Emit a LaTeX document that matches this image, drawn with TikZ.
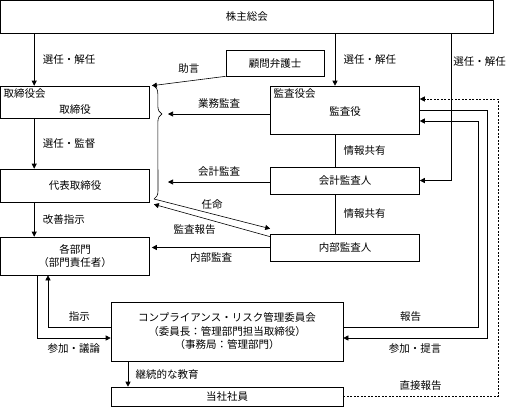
\documentclass[tikz,border=0pt]{standalone}
\usepackage{fontspec}
\newfontfamily\jpfont{Noto Sans CJK JP}
\usetikzlibrary{arrows.meta,decorations.pathreplacing}

\begin{document}
\begin{tikzpicture}[x=1pt, y=-1pt, line width=0.6pt,
    font=\jpfont\fontsize{10.5}{13.5}\selectfont,
    box/.style={draw, minimum width=149pt, inner sep=0pt, align=center},
    arr/.style={-{Triangle[length=5pt,width=5pt]}},
    lbl/.style={inner sep=1pt}]
    \def\boxW{149}

    \useasboundingbox (0,0) rectangle (509,407);

    \node[box, minimum width=492.5pt, minimum height=33pt] (soukai) at (246.75,17) {株主総会};
    \node[box, minimum width=98pt, minimum height=26pt] (komon) at (275,63) {顧問弁護士};
    \node[box, minimum height=32pt] (tori) at (75,102) {};
    \node[anchor=north west, inner sep=3pt] (torikai) at (tori.north west) {取締役会};
    \node[lbl] (toriyaku) at (75,110) {取締役};
    \node[box, minimum height=48pt] (kansa) at (345,110) {};
    \node[anchor=north west, inner sep=3pt] (kansakai) at (kansa.north west) {監査役会};
    \node[lbl] (kansayaku) at (345,112) {監査役};
    \node[box, minimum height=33pt] (daihyo) at (75,185.5) {代表取締役};
    \node[box, minimum height=27pt] (kaikei) at (345,180.5) {会計監査人};
    \node[box, minimum height=27pt] (naibu) at (345,247.5) {内部監査人};
    \node[box, minimum height=38pt] (bumon) at (75,256) {各部門\\（部門責任者）};
    \node[box, minimum width=232pt, minimum height=59pt] (iinkai) at (227,331.5)
        {コンプライアンス・リスク管理委員会\\（委員長：管理部門担当取締役）\\（事務局：管理部門）};
    \node[box, minimum width=232pt, minimum height=19pt] (shain) at (227,396.5) {当社社員};

    \coordinate (kx) at (335,0);
    \coordinate (sx) at (451,0);
    \coordinate (ix) at (48,0);
    \coordinate (gx) at (37,0);
    \coordinate (ex) at (128,0);
    \coordinate (rx) at (478,0);
    \coordinate (tx) at (487,0);
    \coordinate (dx) at (498,0);
    \coordinate (brtop) at ([xshift=4pt]tori.north east);
    \coordinate (brbot) at (154,199);
    \coordinate (brtip) at (168,114);
    \coordinate (kt) at (168,182);
    \coordinate (k1) at ([yshift=11pt]kansa.east);
    \coordinate (k2) at ([yshift=-11pt]kansa.east);
    \coordinate (i1) at ([yshift=4.5pt]iinkai.east);
    \coordinate (i2) at ([yshift=-6.5pt]iinkai.east);
    \coordinate (i3) at ([yshift=4.5pt]iinkai.west);
    \coordinate (i4) at ([yshift=-6.5pt]iinkai.west);

    \draw[arr] ([xshift=34pt]soukai.south west) -- ([xshift=34pt]tori.north west)
        node[midway, right=5pt] {選任・解任};
    \draw[arr] (soukai.south -| kx) -- (kansa.north -| kx) node[midway, right=5pt] {選任・解任};
    \draw[arr] (soukai.south -| sx) |- node[pos=0.095, right=1pt, inner sep=1pt] {選任・解任} (kaikei.east);

    \draw[arr] (komon.south west) -- ([xshift=2pt]tori.north east) node[midway, above=4pt] {助言};
    \draw[decorate, decoration={brace, amplitude=8pt, aspect=0.25}] (brtop) -- (brbot);
    \draw[arr] (kansa.west |- brtip) -- (brtip) node[midway, above=2pt] {業務監査};
    \draw[arr] (kaikei.west |- kt) -- (kt) node[midway, above=2pt] {会計監査};

    \draw[arr] ([xshift=34pt]tori.south west) -- ([xshift=34pt]daihyo.north west)
        node[midway, right=5pt] {選任・監督};
    \draw[arr] ([xshift=34pt]daihyo.south west) -- ([xshift=34pt]bumon.north west)
        node[midway, right=5pt] {改善指示};

    \draw[arr] (brbot) -- ([yshift=5pt]naibu.north west) node[midway, above=1pt] {任命};
    \draw[arr] ([yshift=-3pt]naibu.north west) -- ([xshift=4pt,yshift=-2pt]daihyo.south east)
        node[pos=0.65, below=5pt] {監査報告};
    \draw[arr] (naibu.west) -- ([xshift=2pt]naibu.west -| bumon.east) node[midway, below=2pt] {内部監査};

    \foreach \a/\b in {kansa/kaikei, kaikei/naibu}
        \draw (\a.south -| kx) -- (\b.north -| kx) node[midway, right=5pt] {情報共有};

    \draw[arr] (i3) -| node[pos=0.25, above=2pt] {指示} (bumon.south -| ix);
    \draw[arr] (bumon.south -| gx) |- node[pos=0.75, below=2pt] {参加・議論} (i4);
    \draw[arr] (iinkai.south -| ex) -- (shain.north -| ex) node[midway, right=4pt] {継続的な教育};

    \draw[arr] (i1) -| node[pos=0.25, above=2pt] {報告} (k2 -| rx) -- (k2);
    \draw[arr] (kansa.east) -| (tx |- i2) -- node[midway, below=2pt] {参加・提言} (i2);
    \draw[arr, dash pattern=on 2pt off 1.5pt] (shain.east) -| node[pos=0.25, above=2pt] {直接報告} (dx |- k1) -- (k1);
\end{tikzpicture}
\end{document}
